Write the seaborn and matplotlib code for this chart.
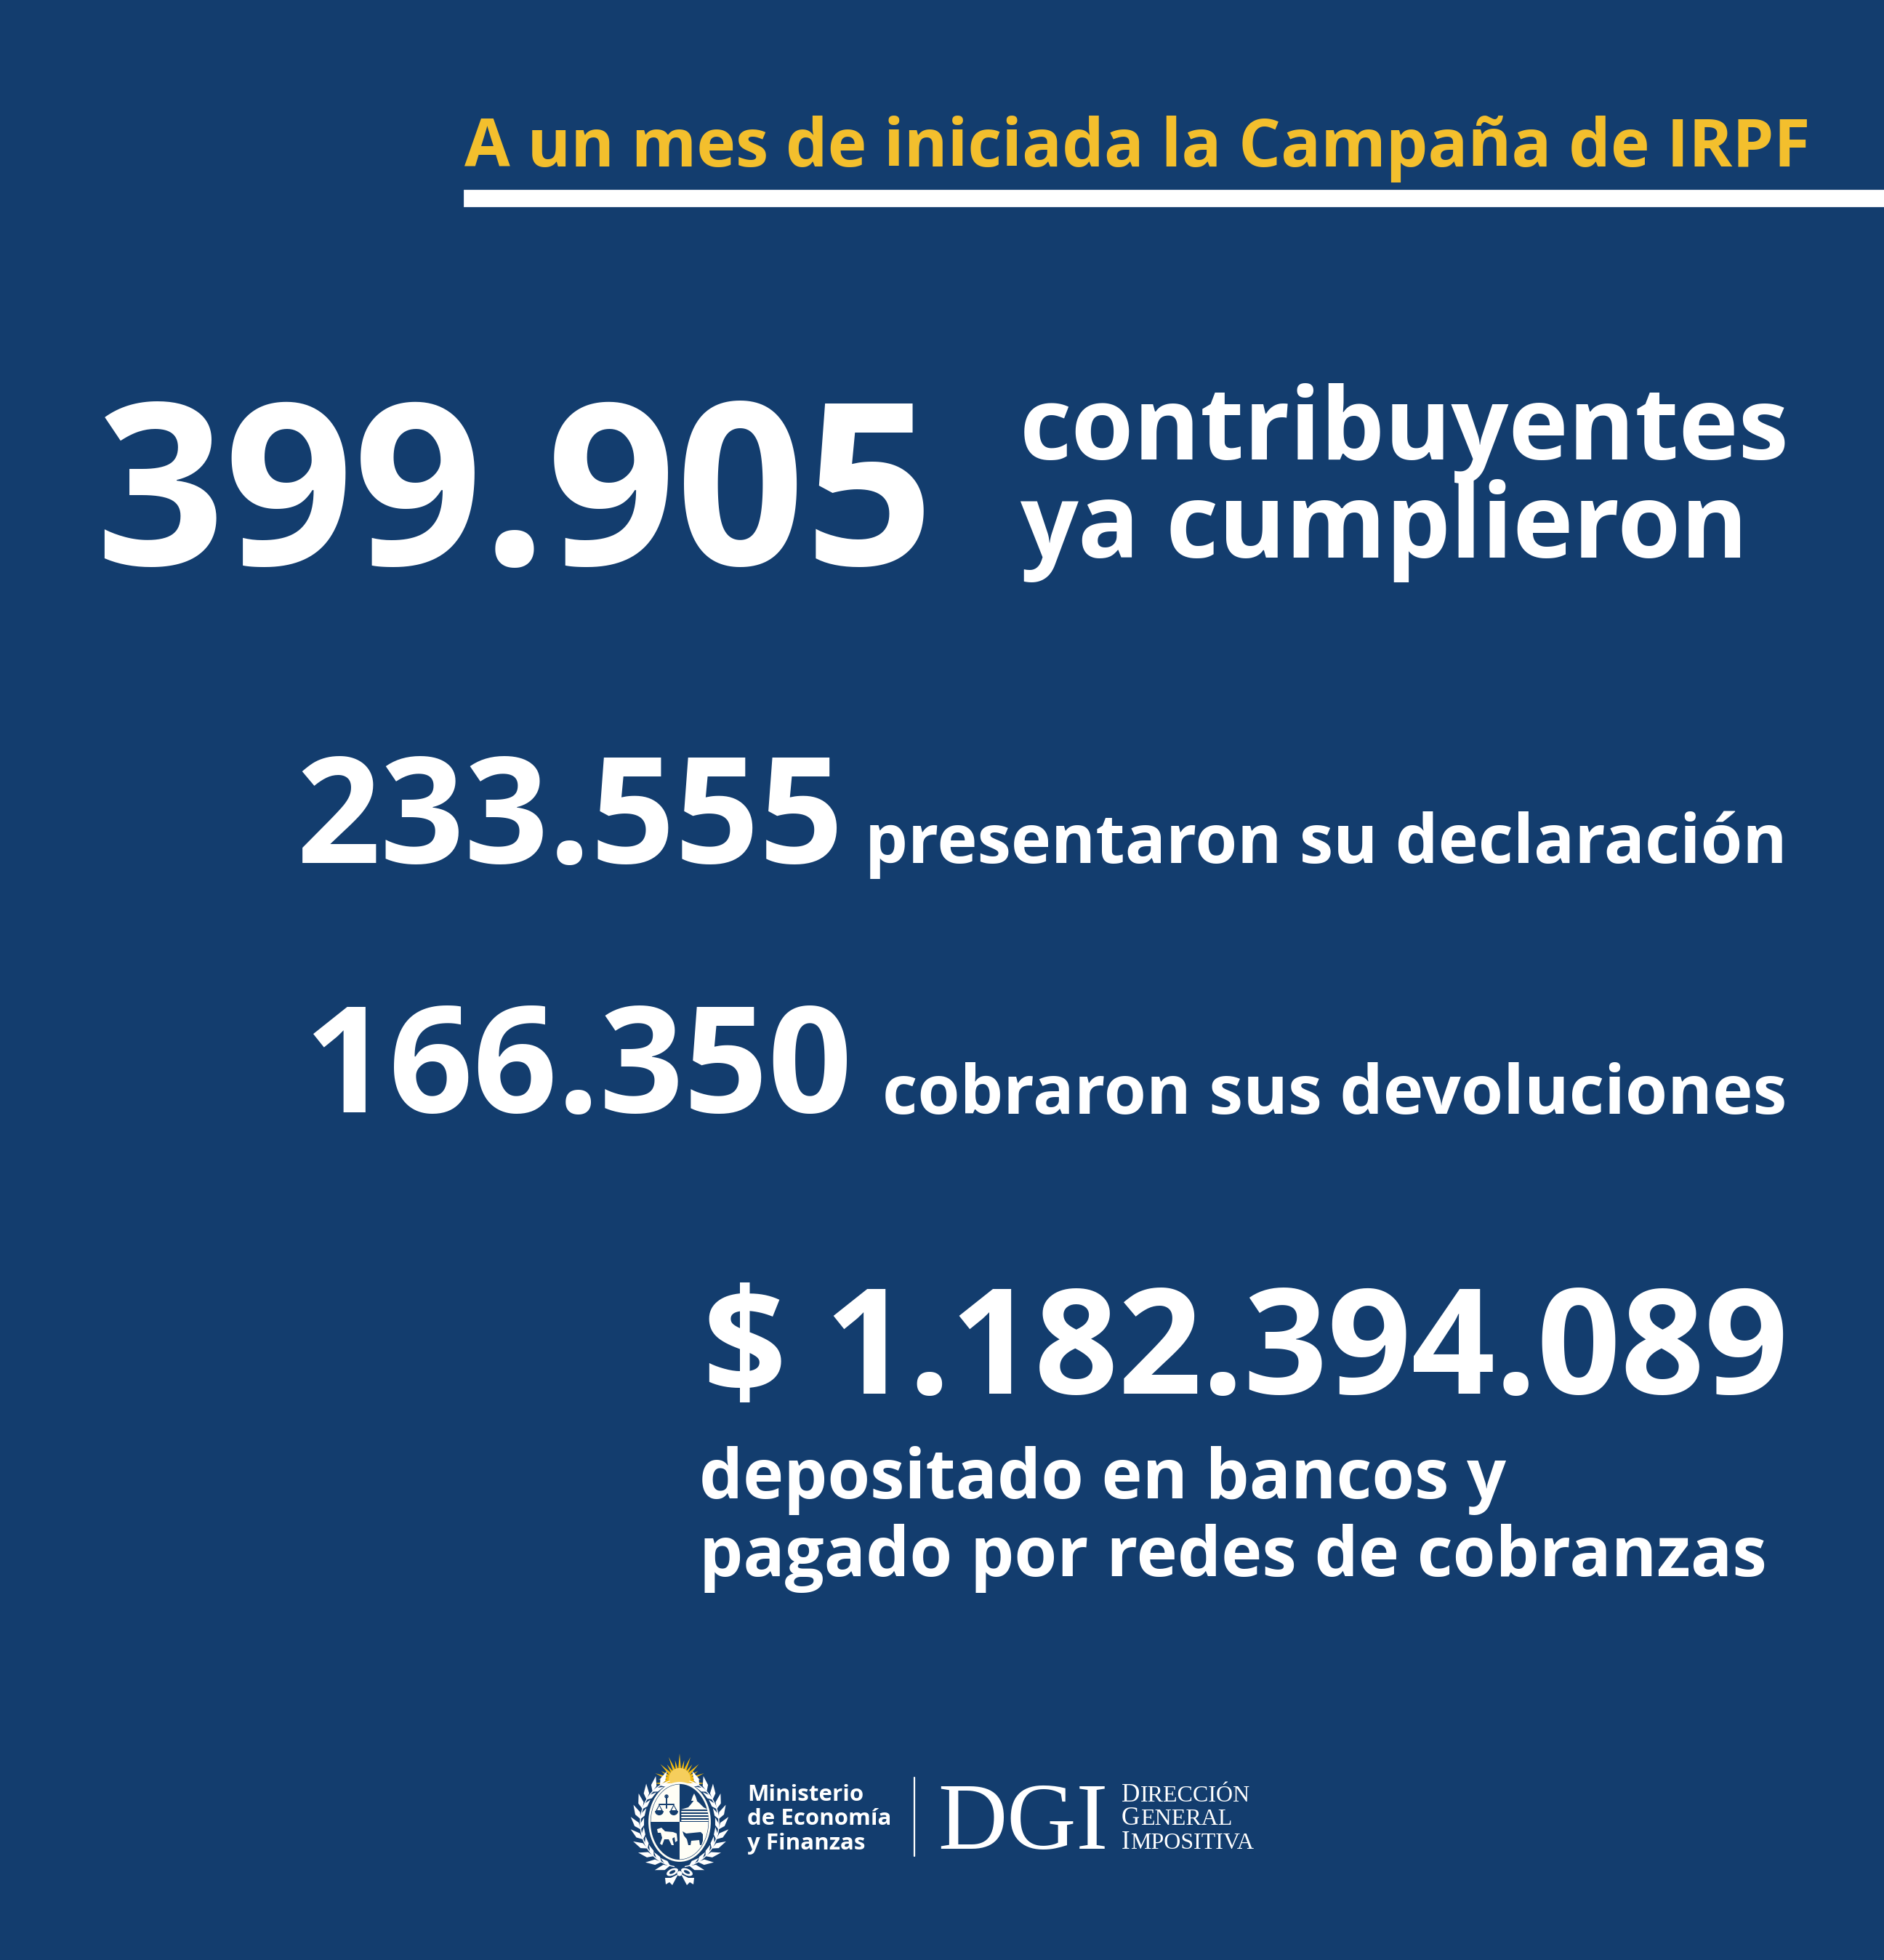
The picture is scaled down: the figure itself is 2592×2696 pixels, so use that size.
import matplotlib
matplotlib.use('Agg')
import matplotlib.pyplot as plt
from matplotlib.patches import Circle, Ellipse, Polygon, Wedge
from matplotlib.transforms import Affine2D
import seaborn as sns
import pandas as pd
import numpy as np

sns.set_theme(style='white')
plt.rcParams['font.family'] = ['Open Sans', 'Noto Sans', 'DejaVu Sans']

BG = '#133d6e'
GOLD = '#f3bf2d'
WHITE = '#ffffff'
SHIELD = '#fffef6'

title = 'A un mes de iniciada la Campaña de IRPF'
amounts = ['399.905', '233.555', '166.350', '$ 1.182.394.089']
captions = ['contribuyentes\nya cumplieron', 'presentaron su declaración',
            'cobraron sus devoluciones', 'depositado en bancos y\npagado por redes de cobranzas']
ministry = ['Ministerio', 'de Economía', 'y Finanzas']
dgi = ['Dirección', 'General', 'Impositiva']

W, H = 2592, 2696
fig = plt.figure(figsize=(W / 200, H / 200), dpi=200, facecolor=BG)
ax = fig.add_axes([0, 0, 1, 1])
ax.set_facecolor(BG)

# white rule under the title, drawn as a one-bar chart
rule = pd.DataFrame({'x': [1953], 'y': [272.5]})
sns.barplot(data=rule, x='x', y='y', orient='h', native_scale=True, left=639,
            width=21, color=WHITE, saturation=1, ax=ax)
ax.set_xlim(0, W)
ax.set_ylim(H, 0)
ax.set_axis_off()


def put(x, y, s, size, ha='left', va='baseline', color=WHITE, weight='bold', **kw):
    # size given in image pixels, converted to points
    return ax.text(x, y, s, fontsize=size * 72 / 200, ha=ha, va=va, color=color,
                   fontweight=weight, **kw)


def poly(points, color):
    ax.add_patch(Polygon(points, closed=True, color=color, lw=0))


def leaf(x, y, angle, length=17, width=6.5):
    d = np.array([np.cos(angle), np.sin(angle)])
    n = np.array([-d[1], d[0]])
    base = np.array([x, y])
    poly([base, base + 0.4 * length * d + width / 2 * n, base + length * d,
          base + 0.4 * length * d - width / 2 * n], WHITE)


put(2490, 229, title, 91, ha='right', color=GOLD)

put(1285, 777, amounts[0], 311, ha='right')
put(1403, 632, captions[0].split('\n')[0], 139)
put(1403, 767, captions[0].split('\n')[1], 140.5)

put(1161, 1187, amounts[1], 203, ha='right')
put(2459, 1187, captions[1], 93.3, ha='right')

put(1172, 1530, amounts[2], 203, ha='right')
put(2458, 1532, captions[2], 94, ha='right')

put(2460, 1917, amounts[3], 202, ha='right')
put(962, 2061, captions[3].split('\n')[0], 95)
put(962, 2168, captions[3].split('\n')[1], 95.3)

# footer logos
ax.plot([1258, 1258], [2445, 2553], color=WHITE, lw=0.8)
for i, line in enumerate(ministry):
    put(1028, 2477 + i * 33.5, line, 31.3)
put(1290, 2543, 'DGI', 132, family=['Liberation Serif'], weight='normal')

# small caps by hand: large first letter, smaller rest
renderer = fig.canvas.get_renderer()
for i, line in enumerate(dgi):
    base = 2478 + i * 32.5
    first = put(1543, base, line[0], 35, family=['Liberation Serif'], weight='normal')
    x_next = ax.transData.inverted().transform(first.get_window_extent(renderer))[1, 0]
    put(x_next + 1, base, line[1:].upper(), 32, family=['Liberation Serif'], weight='normal')

# emblem, simplified: sun behind the oval shield, laurel, ribbon
cx, cy = 935, 2506
sun_y = 2453
for k, a in enumerate(np.linspace(np.pi * 1.0, np.pi * 2.0, 17)):
    r = 41 - 5 * abs(np.cos(a)) if k % 2 == 0 else 33 - 3 * abs(np.cos(a))
    tip = (cx + r * np.cos(a), sun_y + r * np.sin(a))
    b1 = (cx + 13 * np.cos(a - 0.2), sun_y + 13 * np.sin(a - 0.2))
    b2 = (cx + 13 * np.cos(a + 0.2), sun_y + 13 * np.sin(a + 0.2))
    poly([b1, tip, b2], '#f2b90f')
ax.add_patch(Circle((cx, 2447), 15, color='#f6ce5c', lw=0))

ax.add_patch(Ellipse((cx, cy), 83, 107, fc=BG, ec=SHIELD, lw=1.0))
oval = Affine2D().scale(39.5, 51.5).translate(cx, cy) + ax.transData
ax.add_patch(Wedge((0, 0), 1, 0, 90, color=SHIELD, lw=0, transform=oval))
ax.add_patch(Wedge((0, 0), 1, 180, 270, color=SHIELD, lw=0, transform=oval))

# scales, upper left
ax.plot([917, 917], [2470, 2487], color=BG, lw=0.7)
ax.plot([907, 927], [2482, 2482], color=BG, lw=0.7)
ax.add_patch(Circle((917, 2471), 2, fc=SHIELD, ec=BG, lw=0.5))
for sx in (907, 927):
    ax.add_patch(Wedge((sx, 2491), 6, 0, 180, color=BG, lw=0))
    poly([(sx, 2482), (sx - 5, 2491), (sx + 5, 2491)], BG)
    poly([(sx, 2484), (sx - 3, 2490), (sx + 3, 2490)], SHIELD)
# hill and water, upper right
poly([(937, 2489), (947, 2486), (952, 2480), (956, 2475), (962, 2480), (968, 2486), (974, 2489)], SHIELD)
poly([(951, 2477), (953, 2471), (955, 2467), (957, 2471), (959, 2477)], SHIELD)
for wy in (2492, 2496, 2500, 2504):
    ax.plot([938, 974], [wy, wy], color=SHIELD, lw=0.7)
# horse, lower left
poly([(904, 2516), (910, 2514), (915, 2519), (926, 2520), (931, 2522), (932, 2532), (929, 2534),
      (928, 2527), (925, 2529), (927, 2538), (924, 2538), (920, 2530), (914, 2530), (911, 2538),
      (908, 2536), (911, 2528), (909, 2521), (905, 2521)], SHIELD)
# bull, lower right
poly([(939, 2519), (944, 2522), (964, 2520), (967, 2523), (967, 2532), (965, 2538), (963, 2538),
      (962, 2531), (951, 2532), (950, 2538), (947, 2538), (945, 2530), (941, 2525)], BG)

# laurel branches
for side in (-1, 1):
    thetas = np.radians(np.linspace(8, 165, 60))
    ax.plot(cx + side * 54 * np.sin(thetas), 2508 + 60 * np.cos(thetas), color=WHITE, lw=0.5)
    for deg in np.linspace(14, 150, 11):
        t = np.radians(deg)
        x = cx + side * 54 * np.sin(t)
        y = 2508 + 60 * np.cos(t)
        tang = np.arctan2(-60 * np.sin(t), side * 54 * np.cos(t))
        leaf(x, y, tang + side * 0.55, length=22, width=7.5)
        leaf(x, y, tang - side * 0.4, length=17, width=5.5)

# ribbon
for side in (-1, 1):
    ax.add_patch(Ellipse((cx + side * 10, 2575), 17, 9, angle=side * 25, color=WHITE, lw=0))
    ax.add_patch(Ellipse((cx + side * 10, 2575), 9, 4, angle=side * 25, color=BG, lw=0))
    poly([(cx + side * 2, 2578), (cx + side * 12, 2583), (cx + side * 20, 2583),
          (cx + side * 19, 2592), (cx + side * 14, 2589), (cx + side * 10, 2593)], WHITE)
ax.add_patch(Circle((cx, 2577), 3.5, color=WHITE, lw=0))

fig.savefig('out.png', dpi=200, facecolor=BG)
